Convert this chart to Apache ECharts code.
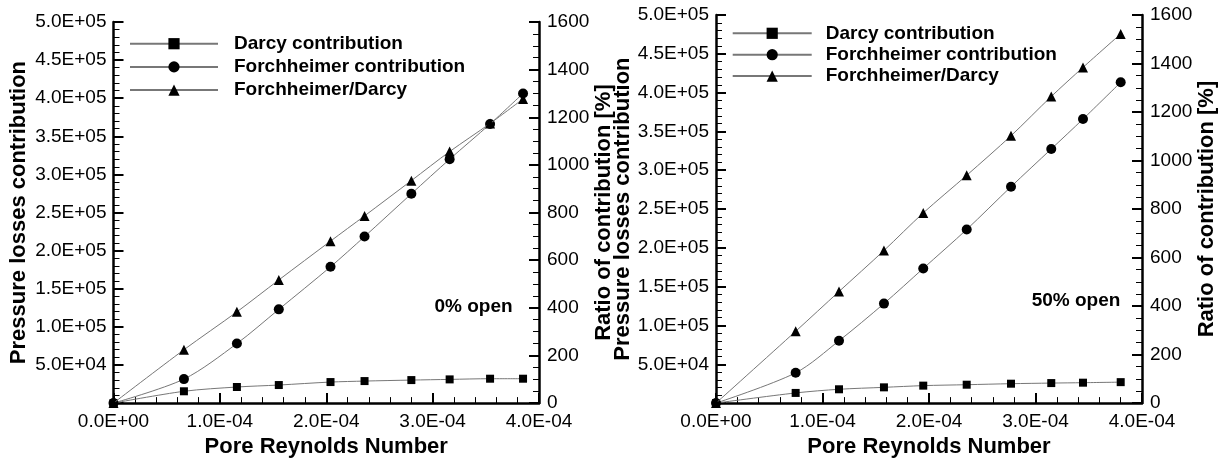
<!DOCTYPE html>
<html>
<head>
<meta charset="UTF-8">
<title></title>
<style>
    html, body { margin: 0; padding: 0; background: #fff; }
    #container { width: 1225px; height: 463px; }
</style>
</head>
<body>
<div id="container"></div>
<script src="https://cdn.jsdelivr.net/npm/echarts@6/dist/echarts.min.js"></script>
<script>
// 0% open (left plot)
var reLeft = [0, 0.662e-4, 1.16e-4, 1.554e-4, 2.04e-4, 2.36e-4, 2.80e-4, 3.16e-4, 3.54e-4, 3.85e-4];
var darcyLeft = [0, 15500, 21100, 23700, 27600, 28900, 30200, 31100, 32000, 32000];
var forchLeft = [0, 31500, 78100, 123000, 178800, 218500, 274600, 320000, 366200, 406300];
var ratioLeft = [0, 224, 383, 517, 680, 786, 934, 1056, 1174, 1277];

// 50% open (right plot)
var reRight = [0, 0.748e-4, 1.155e-4, 1.577e-4, 1.946e-4, 2.354e-4, 2.77e-4, 3.148e-4, 3.446e-4, 3.80e-4];
var darcyRight = [0, 13100, 17800, 20300, 22500, 23700, 25000, 25800, 26300, 27000];
var forchRight = [0, 39000, 80300, 128200, 173500, 223700, 278800, 327400, 365900, 413300];
var ratioRight = [0, 296, 460, 629, 784, 939, 1102, 1264, 1384, 1522];

var names = ['Darcy contribution', 'Forchheimer contribution', 'Forchheimer/Darcy'];
var notes = ['0% open', '50% open'];

var FONT = 'Liberation Sans';

function sci(v) {
    var s = Number(v).toExponential(1).split('e');
    var e = parseInt(s[1], 10);
    return s[0] + 'E' + (e < 0 ? '-' : '+') + (Math.abs(e) < 10 ? '0' : '') + Math.abs(e);
}

function pairs(xs, ys) {
    return xs.map(function (x, i) { return [x, ys[i]]; });
}

var labelStyle = { color: '#000', fontFamily: FONT, fontSize: 19 };
var nameStyle = { color: '#000', fontFamily: FONT, fontSize: 22, fontWeight: 'bold' };

function xAxis(grid) {
    return {
        type: 'value', gridIndex: grid, min: 0, max: 4e-4, interval: 1e-4,
        name: 'Pore Reynolds Number', nameLocation: 'middle', nameGap: 31,
        nameTextStyle: nameStyle,
        axisLine: { lineStyle: { color: '#000', width: 2.5 } },
        axisTick: { inside: true, length: 10, lineStyle: { color: '#000', width: 2 } },
        minorTick: { show: true, splitNumber: 5, length: 6, lineStyle: { color: '#000', width: 1 } },
        splitLine: { show: false },
        axisLabel: Object.assign({ margin: 9, formatter: function (v) { return sci(v); } }, labelStyle)
    };
}

function pressAxis(grid, gap) {
    return {
        type: 'value', gridIndex: grid, position: 'left', min: 0, max: 5e5, interval: 5e4,
        name: 'Pressure losses contribution', nameLocation: 'middle', nameGap: gap,
        nameTextStyle: nameStyle,
        axisLine: { show: true, lineStyle: { color: '#000', width: 2.5 } },
        axisTick: { show: true, inside: true, length: 10, lineStyle: { color: '#000', width: 2 } },
        minorTick: { show: true, splitNumber: 5, length: 6, lineStyle: { color: '#000', width: 1 } },
        splitLine: { show: false },
        axisLabel: Object.assign({ margin: 7, formatter: function (v) { return v === 0 ? '' : sci(v); } }, labelStyle)
    };
}

function ratioAxis(grid, gap) {
    return {
        type: 'value', gridIndex: grid, position: 'right', min: 0, max: 1600, interval: 200,
        name: 'Ratio of contribution [%]', nameLocation: 'middle', nameGap: gap, nameRotate: 90,
        nameTextStyle: nameStyle,
        axisLine: { show: true, lineStyle: { color: '#000', width: 2.5 } },
        axisTick: { show: true, inside: true, length: 10, lineStyle: { color: '#000', width: 2 } },
        minorTick: { show: true, splitNumber: 4, length: 6, lineStyle: { color: '#000', width: 1 } },
        splitLine: { show: false },
        axisLabel: Object.assign({ margin: 8, formatter: function (v) { return String(v); } }, labelStyle)
    };
}

function line(name, xi, yi, data, symbol, size) {
    return {
        name: name, type: 'line', xAxisIndex: xi, yAxisIndex: yi,
        data: data, smooth: 0.3, clip: false,
        symbol: symbol, symbolSize: size, showAllSymbol: true,
        itemStyle: { color: '#000' },
        lineStyle: { color: '#777', width: 1 },
        emphasis: { disabled: true },
        z: yi % 2 === 1 ? 3 : 2
    };
}

function legend(left, top, width, gap, pad) {
    return {
        orient: 'vertical', left: left, top: top, data: names, padding: 0,
        itemWidth: width, itemHeight: 14, itemGap: gap,
        selectedMode: false,
        textStyle: { color: '#000', fontFamily: FONT, fontSize: 19, fontWeight: 'bold', padding: [0, 0, 0, pad] }
    };
}

function note(text, x, y) {
    return {
        type: 'text', x: x, y: y,
        style: { text: text, font: 'bold 19px "Liberation Sans"', fill: '#000', align: 'center', verticalAlign: 'middle' }
    };
}

var myChart = echarts.init(document.getElementById('container'));
myChart.setOption({
    animation: false,
    backgroundColor: '#fff',
    grid: [
        { left: 113.5, top: 22, width: 425.5, height: 386 },
        { left: 716, top: 15, width: 426, height: 394 }
    ],
    legend: [
        legend(129, 34.2, 88, 4.2, 11),
        legend(731.7, 23.8, 79, 2.4, 9)
    ],
    xAxis: [xAxis(0), xAxis(1)],
    yAxis: [pressAxis(0, 84), ratioAxis(0, 51), pressAxis(1, 82), ratioAxis(1, 49)],
    graphic: [note(notes[0], 473.5, 307), note(notes[1], 1076, 301)],
    series: [
        line(names[0], 0, 0, pairs(reLeft, darcyLeft), 'rect', 8),
        line(names[1], 0, 0, pairs(reLeft, forchLeft), 'circle', 10),
        line(names[2], 0, 1, pairs(reLeft, ratioLeft), 'triangle', 10),
        line(names[0], 1, 2, pairs(reRight, darcyRight), 'rect', 8),
        line(names[1], 1, 2, pairs(reRight, forchRight), 'circle', 10),
        line(names[2], 1, 3, pairs(reRight, ratioRight), 'triangle', 10)
    ]
});
</script>
</body>
</html>
